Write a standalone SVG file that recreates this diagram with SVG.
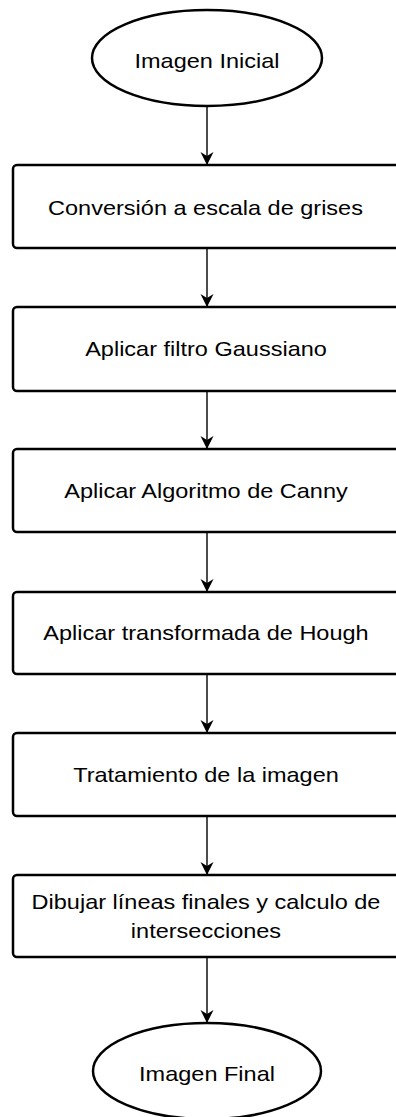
<svg xmlns="http://www.w3.org/2000/svg" width="396" height="1117" viewBox="0 0 396 1117">
<style>
.box{fill:#fff;stroke:#000;stroke-width:2.5}
.t{font-family:"Liberation Sans",Arial,sans-serif;font-size:21px;fill:#000;text-anchor:middle}
.c{stroke:#000;stroke-width:1.4;fill:none;marker-end:url(#ah)}
</style>
<defs>
<marker id="ah" markerUnits="userSpaceOnUse" markerWidth="16" markerHeight="16" refX="14" refY="7" orient="auto" viewBox="0 0 16 14">
<path d="M14,7 L1,0.5 L5,7 L1,13.5 Z" fill="#000"/>
</marker>
</defs>
<rect width="396" height="1117" fill="#fff"/>
<g id="connectors">
<line class="c" x1="207" y1="107" x2="207" y2="165"/>
<line class="c" x1="207" y1="248" x2="207" y2="307"/>
<line class="c" x1="207" y1="391" x2="207" y2="449"/>
<line class="c" x1="207" y1="532" x2="207" y2="592"/>
<line class="c" x1="207" y1="674" x2="207" y2="733"/>
<line class="c" x1="207" y1="816" x2="207" y2="875"/>
<line class="c" x1="207" y1="957" x2="207" y2="1023"/>
</g>
<g id="n0">
<ellipse class="box" cx="207" cy="58" rx="115" ry="48"/>
<text class="t" x="0" y="68" transform="translate(207 0) scale(1.12 1)">Imagen Inicial</text>
</g>
<g id="n1">
<rect class="box" x="13" y="165" width="390" height="83" rx="4"/>
<text class="t" x="0" y="215" transform="translate(205.5 0) scale(1.12 1)">Conversión a escala de grises</text>
</g>
<g id="n2">
<rect class="box" x="13" y="307" width="390" height="84" rx="4"/>
<text class="t" x="0" y="356" transform="translate(206 0) scale(1.12 1)">Aplicar filtro Gaussiano</text>
</g>
<g id="n3">
<rect class="box" x="13" y="449" width="390" height="83" rx="4"/>
<text class="t" x="0" y="498" transform="translate(206 0) scale(1.12 1)">Aplicar Algoritmo de Canny</text>
</g>
<g id="n4">
<rect class="box" x="13" y="592" width="390" height="82" rx="4"/>
<text class="t" x="0" y="640" transform="translate(206 0) scale(1.12 1)">Aplicar transformada de Hough</text>
</g>
<g id="n5">
<rect class="box" x="13" y="733" width="390" height="83" rx="4"/>
<text class="t" x="0" y="782" transform="translate(206 0) scale(1.12 1)">Tratamiento de la imagen</text>
</g>
<g id="n6">
<rect class="box" x="13" y="875" width="390" height="82" rx="4"/>
<text class="t" x="0" y="909" transform="translate(206 0) scale(1.12 1)">Dibujar líneas finales y calculo de</text>
<text class="t" x="0" y="938" transform="translate(206 0) scale(1.12 1)">intersecciones</text>
</g>
<g id="n7">
<ellipse class="box" cx="207" cy="1071" rx="114" ry="48"/>
<text class="t" x="0" y="1081" transform="translate(207 0) scale(1.12 1)">Imagen Final</text>
</g>
</svg>
